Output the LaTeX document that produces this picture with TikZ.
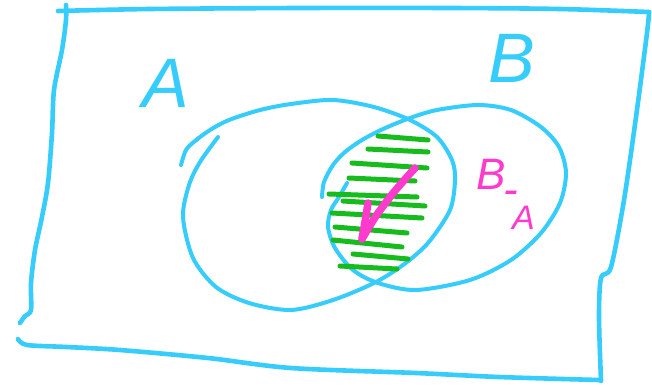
\documentclass[tikz,border=0pt]{standalone}
\usepackage{fontspec}
\setsansfont{Liberation Sans}
\definecolor{penblue}{RGB}{54,205,253}
\definecolor{pengreen}{RGB}{22,187,28}
\definecolor{penpink}{RGB}{255,58,204}
\tikzset{
  frameline/.style={draw=penblue,line width=4.6pt,line cap=round,line join=round},
  setline/.style={draw=penblue,line width=4pt,line cap=round,line join=round},
  hatch/.style={draw=pengreen,line width=5pt,line cap=round},
  tick/.style={draw=penpink,line width=7.5pt,line cap=round,line join=round},
  bluelabel/.style={text=penblue,inner sep=0pt,font=\sffamily\itshape\fontsize{70}{70}\selectfont},
  pinklabel/.style={text=penpink,inner sep=0pt,font=\sffamily\itshape\fontsize{44}{44}\selectfont}
}
\begin{document}
\begin{tikzpicture}[x=1pt,y=-1pt]
\useasboundingbox[fill=white] (0,0) rectangle (652,386);
% frame
\draw[frameline] plot[smooth] coordinates {(66,5) (66,20) (62,50) (54,90) (52,133) (48,183) (42,217) (35,250) (31,283) (31,310) (25,316) (20,323)};
\draw[frameline] plot[smooth] coordinates {(58,11) (150,9) (300,8) (450,8) (560,9) (649,12)};
\draw[frameline] plot[smooth] coordinates {(649,12) (647,33) (636,117) (624,200) (611,267) (601,278) (599,317) (601,381)};
\draw[frameline] plot[smooth] coordinates {(18,339) (27,345) (67,347) (120,350) (208,358) (291,368) (416,373) (499,377) (599,380)};
% set A
\draw[setline] plot[smooth] coordinates {(181,165) (186,150) (195,141) (210,130) (229,120) (260,110) (291,104) (333,100) (374,107) (410,120) (437,137) (452,160) (455,180) (450,210) (428,243) (403,265) (374,283) (333,300) (291,310) (249,303) (216,287) (193,258) (183,217) (189,185) (200,162) (218,137)};
% set B
\draw[setline] plot[smooth] coordinates {(322,197) (324,182) (333,165) (345,152) (362,140) (383,129) (410,118) (437,110) (478,105) (511,110) (541,127) (559,147) (566,173) (560,203) (541,233) (511,260) (470,280) (416,290) (378,283) (353,270) (335,248) (328,227) (331,210) (339,197) (347,183)};
% hatching
\coordinate (h1a) at (378,136); \coordinate (h1b) at (428,140);
\coordinate (h2a) at (368,149); \coordinate (h2b) at (428,152);
\coordinate (h3a) at (352,163); \coordinate (h3b) at (427,168);
\coordinate (h4a) at (349,178); \coordinate (h4b) at (415,181);
\coordinate (h5a) at (329,194); \coordinate (h5b) at (417,197);
\coordinate (h6a) at (343,201); \coordinate (h6b) at (425,206);
\coordinate (h7a) at (332,213); \coordinate (h7b) at (422,218);
\coordinate (h8a) at (335,227); \coordinate (h8b) at (407,233);
\coordinate (h9a) at (333,240); \coordinate (h9b) at (402,247);
\coordinate (h10a) at (353,254); \coordinate (h10b) at (408,259);
\coordinate (h11a) at (340,266); \coordinate (h11b) at (397,269);
\foreach \i in {1,...,11} {\draw[hatch] (h\i a) -- (h\i b);}
% check mark
\draw[tick] plot[smooth] coordinates {(368,203) (365,222) (362,239)};
\draw[tick] plot[smooth] coordinates {(362,239) (376,216) (394,192) (415,168)};
% labels
\node[bluelabel,anchor=base] (labA) at (166,107) {A};
\node[bluelabel,anchor=base] (labB) at (512,82) {B};
\node[pinklabel,anchor=base west] (labBA) at (476,189) {B\kern-2pt\raisebox{-15pt}{-}\kern-6pt\raisebox{-40pt}{\fontsize{34}{34}\selectfont A}};
\end{tikzpicture}
\end{document}
